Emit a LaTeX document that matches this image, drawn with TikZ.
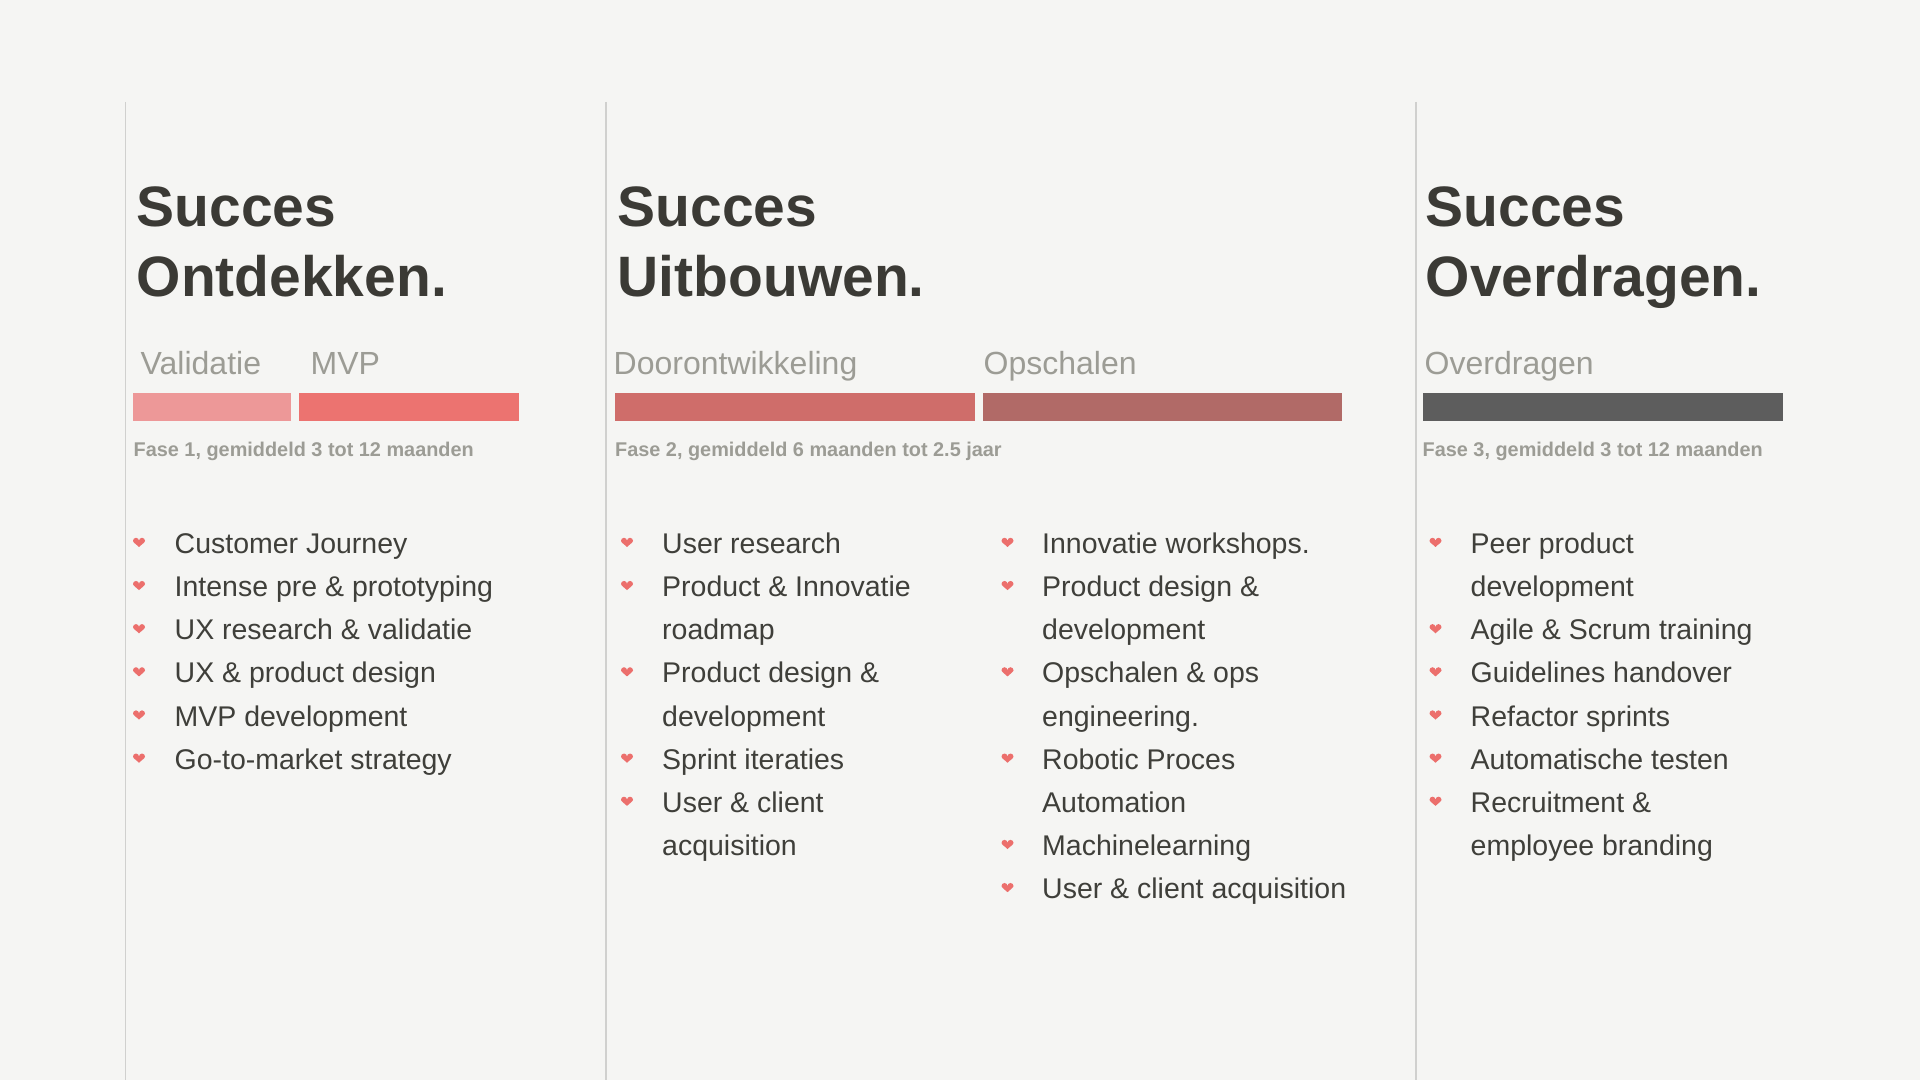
\documentclass[tikz,border=0pt]{standalone}
\usepackage{fontspec}
\setmainfont{Liberation Sans}
\definecolor{bgc}{HTML}{F5F5F3}
\definecolor{rulec}{HTML}{D0D0CE}
\definecolor{headc}{HTML}{3B3A35}
\definecolor{textc}{HTML}{3F3F3A}
\definecolor{greyc}{HTML}{9C9C95}
\definecolor{heartc}{HTML}{EC6F6C}
\definecolor{barA}{HTML}{ED9898}
\definecolor{barB}{HTML}{EC7370}
\definecolor{barC}{HTML}{CF6D6A}
\definecolor{barD}{HTML}{B16A67}
\definecolor{barE}{HTML}{5D5D5D}
\begin{document}
\begin{tikzpicture}[x=0.01cm, y=-0.01cm,
  heading/.style={anchor=base west, inner sep=0pt, text=headc,
    font=\fontsize{16.2pt}{19pt}\selectfont\bfseries},
  sublabel/.style={anchor=base west, inner sep=0pt, text=greyc,
    font=\fontsize{9.1pt}{11pt}\selectfont},
  fase/.style={anchor=base west, inner sep=0pt, text=greyc,
    font=\fontsize{5.65pt}{7pt}\selectfont\bfseries},
  item/.style={anchor=base west, inner sep=0pt, text=textc,
    font=\fontsize{8.1pt}{10pt}\selectfont},
  divider/.style={draw=rulec, line width=0.45pt},
  heart/.pic={\fill[heartc] (0,5) .. controls (-2.5,2.5) and (-6,0.5) .. (-6,-1.2)
     arc[start angle=180, end angle=360, radius=3]
     arc[start angle=180, end angle=360, radius=3]
     .. controls (6,0.5) and (2.5,2.5) .. (0,5) -- cycle;}
]
% canvas
\fill[bgc] (0,0) rectangle (1920,1080);
\useasboundingbox (0,0) rectangle (1920,1080);

% column dividers
\coordinate (d1t) at (125.5,102); \coordinate (d1b) at (125.5,1080);
\coordinate (d2t) at (606,102);   \coordinate (d2b) at (606,1080);
\coordinate (d3t) at (1415.7,102); \coordinate (d3b) at (1415.7,1080);
\draw[divider] (d1t) -- (d1b);
\draw[divider] (d2t) -- (d2b);
\draw[divider] (d3t) -- (d3b);

% headings
\node[heading] (h1a) at (136,227) {Succes};
\node[heading] (h1b) at (136,297) {Ontdekken.};
\node[heading] (h2a) at (617,227) {Succes};
\node[heading] (h2b) at (617,297) {Uitbouwen.};
\node[heading] (h3a) at (1425,227) {Succes};
\node[heading] (h3b) at (1425,297) {Overdragen.};

% sub-phase labels
\node[sublabel] (l1) at (140,375) {Validatie};
\node[sublabel] (l2) at (310,375) {MVP};
\node[sublabel] (l3) at (613,375) {Doorontwikkeling};
\node[sublabel] (l4) at (983,375) {Opschalen};
\node[sublabel] (l5) at (1424,375) {Overdragen};

% phase bars
\fill[barA] (133,393) rectangle (291,421);
\fill[barB] (299,393) rectangle (519,421);
\fill[barC] (614.5,393) rectangle (975,421);
\fill[barD] (982.5,393) rectangle (1342,421);
\fill[barE] (1423,393) rectangle (1783,421);

% phase durations
\node[fase] (f1) at (133,456.5) {Fase 1, gemiddeld 3 tot 12 maanden};
\node[fase] (f2) at (614.5,456.5) {Fase 2, gemiddeld 6 maanden tot 2.5 jaar};
\node[fase] (f3) at (1422,456.5) {Fase 3, gemiddeld 3 tot 12 maanden};

% bullet lists: row / text / bullet flag
\foreach \r/\t/\b [count=\i] in {
  0/Customer Journey/1, 1/Intense pre \& prototyping/1, 2/UX research \& validatie/1,
  3/UX \& product design/1, 4/MVP development/1, 5/Go-to-market strategy/1}{
  \node[item] (a\i) at (174,553.5+43.15*\r) {\t};
  \ifnum\b=1 \pic at (139,542+43.15*\r) {heart};\fi
}
\foreach \r/\t/\b [count=\i] in {
  0/User research/1, 1/Product \& Innovatie/1, 2/roadmap/0,
  3/Product design \&/1, 4/development/0, 5/Sprint iteraties/1,
  6/User \& client/1, 7/acquisition/0}{
  \node[item] (b\i) at (661.5,553.5+43.15*\r) {\t};
  \ifnum\b=1 \pic at (627,542+43.15*\r) {heart};\fi
}
\foreach \r/\t/\b [count=\i] in {
  0/Innovatie workshops./1, 1/Product design \&/1, 2/development/0,
  3/Opschalen \& ops/1, 4/engineering./0, 5/Robotic Proces/1,
  6/Automation/0, 7/Machinelearning/1, 8/User \& client acquisition/1}{
  \node[item] (c\i) at (1041.5,553.5+43.15*\r) {\t};
  \ifnum\b=1 \pic at (1007.5,542+43.15*\r) {heart};\fi
}
\foreach \r/\t/\b [count=\i] in {
  0/Peer product/1, 1/development/0, 2/Agile \& Scrum training/1,
  3/Guidelines handover/1, 4/Refactor sprints/1, 5/Automatische testen/1,
  6/Recruitment \&/1, 7/employee branding/0}{
  \node[item] (e\i) at (1470,553.5+43.15*\r) {\t};
  \ifnum\b=1 \pic at (1435.5,542+43.15*\r) {heart};\fi
}
\end{tikzpicture}
\end{document}
